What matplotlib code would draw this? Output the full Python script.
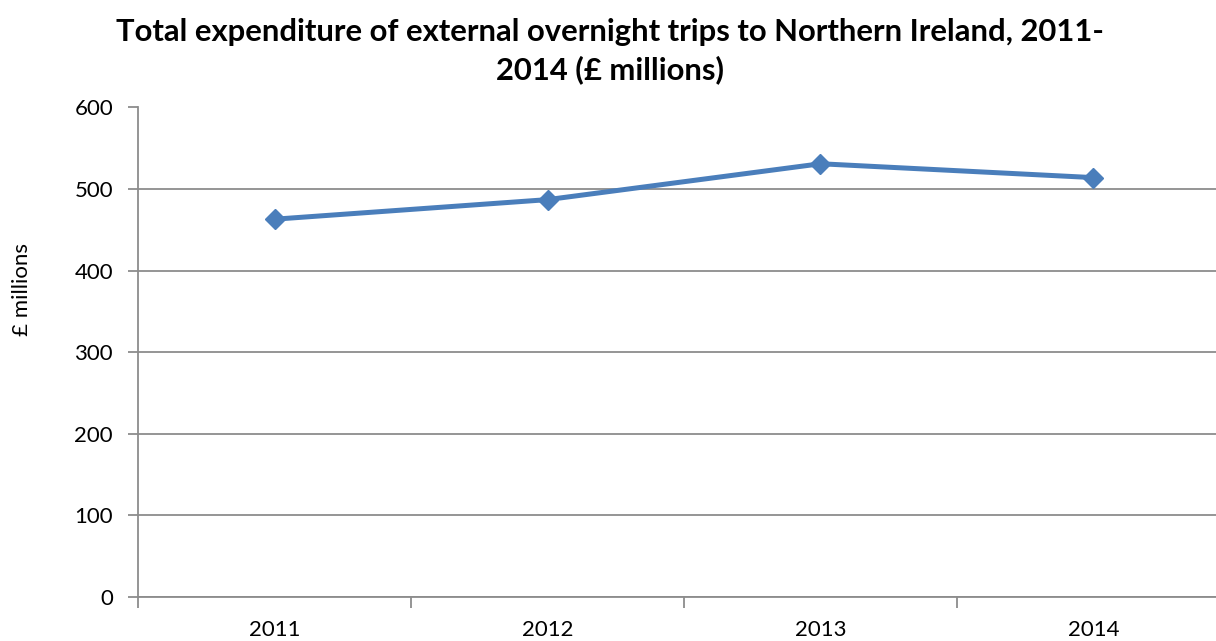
import matplotlib
matplotlib.use("Agg")
import matplotlib.pyplot as plt
from matplotlib.ticker import FixedLocator, NullFormatter

years = ["2011", "2012", "2013", "2014"]
values = [463, 487, 531, 514]
y_ticks = [0, 100, 200, 300, 400, 500, 600]

plt.rcParams['font.family'] = ['Lato', 'DejaVu Sans']

W, H = 1216, 641
fig = plt.figure(figsize=(W / 100, H / 100), dpi=100)
left, right, top, bottom = 138, 1230, 107.5, 596.7
ax = fig.add_axes([left / W, 1 - bottom / H, (right - left) / W, (bottom - top) / H])

x = list(range(len(years)))
ax.plot(x, values, color="#4a7ebb", linewidth=3.6, marker="D", markersize=10,
        markerfacecolor="#4a7ebb", markeredgecolor="#4a7ebb", zorder=3, clip_on=False)

ax.set_xlim(-0.5, len(years) - 0.5)
ax.set_ylim(0, 600)
ax.set_yticks(y_ticks)
ax.set_yticklabels([str(t) for t in y_ticks], fontsize=16)
ax.yaxis.grid(True, color="#8c8c8c", linewidth=1.3)
ax.set_axisbelow(True)

ax.xaxis.set_major_locator(FixedLocator([i - 0.5 for i in range(len(years) + 1)]))
ax.xaxis.set_major_formatter(NullFormatter())
ax.xaxis.set_minor_locator(FixedLocator(x))
ax.set_xticklabels(years, minor=True, fontsize=16)
ax.tick_params(axis="x", which="major", length=8, width=1.3, color="#8c8c8c", direction="out")
ax.tick_params(axis="x", which="minor", length=0, pad=16.5)
ax.tick_params(axis="y", length=7, width=1.3, color="#8c8c8c", pad=11)

for s in ["top", "right"]:
    ax.spines[s].set_visible(False)
for s in ["left", "bottom"]:
    ax.spines[s].set_color("#8c8c8c")
    ax.spines[s].set_linewidth(1.3)

fig.text(22 / W, 1 - 290 / H, "£ millions", rotation=90, ha="center", va="center", fontsize=16)

fig.text(610 / W, 1 - 51 / H,
         "Total expenditure of external overnight trips to Northern Ireland, 2011-\n2014 (£ millions)",
         ha="center", va="center", fontsize=22.3, fontweight="bold", linespacing=1.4)

fig.savefig("out.png", dpi=100)
